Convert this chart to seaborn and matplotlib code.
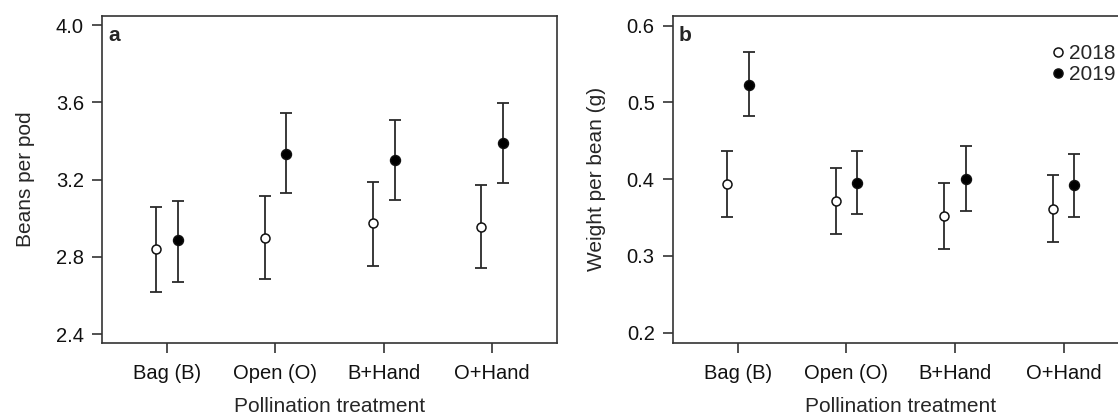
import numpy as np
import pandas as pd
import matplotlib
matplotlib.use("Agg")
import matplotlib.pyplot as plt
from matplotlib.lines import Line2D
import seaborn as sns

# ---------------- data ----------------
treatments = ["Bag (B)", "Open (O)", "B+Hand", "O+Hand"]
years = ["2018", "2019"]

# panel a: beans per pod
beans_2018 = [2.838, 2.897, 2.973, 2.956]
beans_2018_lo = [2.620, 2.684, 2.753, 2.741]
beans_2018_hi = [3.058, 3.113, 3.190, 3.174]
beans_2019 = [2.885, 3.335, 3.300, 3.390]
beans_2019_lo = [2.672, 3.131, 3.094, 3.183]
beans_2019_hi = [3.091, 3.545, 3.510, 3.598]

# panel b: weight per bean (g)
weight_2018 = [0.394, 0.372, 0.352, 0.361]
weight_2018_lo = [0.351, 0.329, 0.309, 0.318]
weight_2018_hi = [0.437, 0.415, 0.395, 0.405]
weight_2019 = [0.523, 0.395, 0.400, 0.392]
weight_2019_lo = [0.482, 0.354, 0.359, 0.351]
weight_2019_hi = [0.565, 0.437, 0.443, 0.433]


def make_df(m18, lo18, hi18, m19, lo19, hi19):
    rows = []
    for i, t in enumerate(treatments):
        rows.append(dict(treatment=t, idx=i, year="2018", mean=m18[i], lo=lo18[i], hi=hi18[i]))
        rows.append(dict(treatment=t, idx=i, year="2019", mean=m19[i], lo=lo19[i], hi=hi19[i]))
    df = pd.DataFrame(rows)
    # dodge the two years around each treatment
    df["x"] = df["idx"] + np.where(df["year"] == "2018", -0.1, 0.1)
    return df


df_a = make_df(beans_2018, beans_2018_lo, beans_2018_hi, beans_2019, beans_2019_lo, beans_2019_hi)
df_b = make_df(weight_2018, weight_2018_lo, weight_2018_hi, weight_2019, weight_2019_lo, weight_2019_hi)

# ---------------- style ----------------
sns.set_style("white")
plt.rcParams["font.family"] = ["Liberation Sans", "DejaVu Sans"]
plt.rcParams["font.size"] = 15

edge = "#333333"
W, H = 1118, 416
fig = plt.figure(figsize=(W / 100, H / 100), dpi=100)
ax_a = fig.add_axes([102 / W, 73.3 / H, 455 / W, 326.7 / H])
ax_b = fig.add_axes([672.7 / W, 73.3 / H, 456 / W, 326.7 / H])


def draw(ax, df, ylabel, letter, ylim, yticks):
    for yr in years:
        d = df[df["year"] == yr]
        ax.errorbar(d["x"], d["mean"],
                    yerr=[d["mean"] - d["lo"], d["hi"] - d["mean"]],
                    fmt="none", ecolor="#2a2a2a", elinewidth=1.3,
                    capsize=4.5, capthick=1.3, zorder=2)
    sns.scatterplot(data=df[df["year"] == "2018"], x="x", y="mean",
                    color="white", edgecolor="#111111", linewidth=1.1,
                    s=42, legend=False, ax=ax, zorder=3)
    sns.scatterplot(data=df[df["year"] == "2019"], x="x", y="mean",
                    color="black", edgecolor="#111111", linewidth=1.0,
                    s=52, legend=False, ax=ax, zorder=3)
    ax.set_xlim(-0.6, 3.6)
    ax.set_ylim(*ylim)
    ax.set_yticks(yticks)
    ax.set_yticklabels([f"{v:.1f}" for v in yticks])
    ax.set_xticks(range(len(treatments)))
    ax.set_xticklabels(treatments)
    ax.set_xlabel("Pollination treatment", labelpad=10.5, fontsize=15)
    ax.set_ylabel(ylabel, labelpad=15, fontsize=15)
    for sp in ax.spines.values():
        sp.set_visible(True)
        sp.set_color(edge)
        sp.set_linewidth(1.2)
    ax.tick_params(axis="both", direction="out", length=7, width=1.2,
                   color=edge, labelsize=14.5, labelcolor="#111111",
                   bottom=True, left=True)
    ax.tick_params(axis="x", pad=8)
    ax.tick_params(axis="y", pad=6)
    ax.text(0.013, 0.924, letter, transform=ax.transAxes, fontsize=15,
            fontweight="bold", va="baseline", ha="left")


draw(ax_a, df_a, "Beans per pod", "a", (2.355, 4.048),
     [2.4, 2.8, 3.2, 3.6, 4.0])
draw(ax_b, df_b, "Weight per bean (g)", "b", (0.187, 0.6125),
     [0.2, 0.3, 0.4, 0.5, 0.6])

# legend (year markers), kept just inside the right edge
handles = [Line2D([], [], marker="o", ls="none", mfc="white", mec="#111111", ms=6.5, mew=1.1),
           Line2D([], [], marker="o", ls="none", mfc="black", mec="#111111", ms=6.5, mew=1.1)]
fig.legend(handles, years, loc="upper right", bbox_to_anchor=(1116 / W, 1 - 44 / H),
           frameon=False, handlelength=0.6, handletextpad=0.25, labelspacing=0.1,
           borderpad=0, borderaxespad=0, fontsize=15)

fig.savefig("out.png", dpi=100)
